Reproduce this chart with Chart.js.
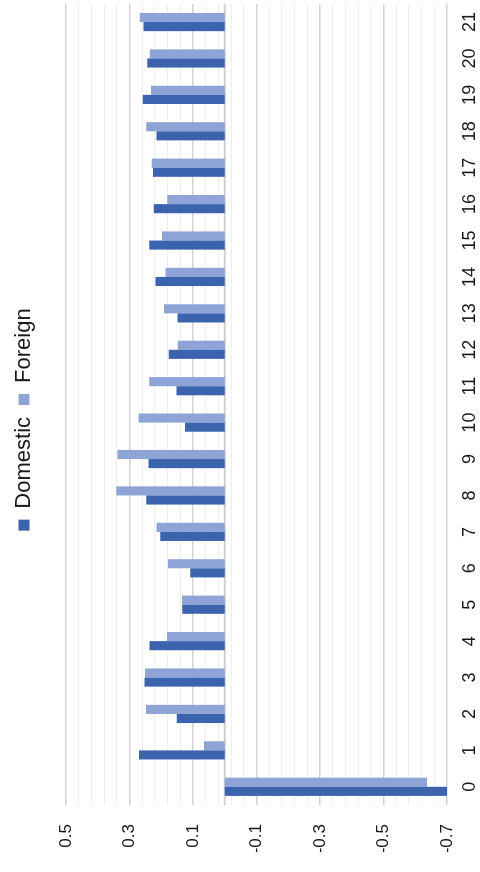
<!DOCTYPE html>
<html>
<head>
<meta charset="utf-8">
<script src="https://cdn.jsdelivr.net/npm/chart.js@4/dist/chart.umd.min.js"></script>
<style>
  html, body { margin: 0; padding: 0; background: #fff; overflow: hidden; width: 480px; height: 872px; }
  #wrap { position: absolute; left: 0; top: 0; width: 872px; height: 480px;
          transform-origin: 0 0; transform: translate(0px, 872px) rotate(-90deg); }
</style>
</head>
<body>
<div id="wrap"><canvas id="c" width="872" height="480"></canvas></div>
<script>
const categories = ['0','1','2','3','4','5','6','7','8','9','10','11','12','13','14','15','16','17','18','19','20','21'];
const domestic = [-0.705, 0.270, 0.151, 0.253, 0.237, 0.134, 0.109, 0.203, 0.247, 0.240, 0.125, 0.152, 0.176, 0.149, 0.218, 0.238, 0.224, 0.226, 0.215, 0.258, 0.244, 0.256];
const foreign  = [-0.637, 0.065, 0.248, 0.251, 0.182, 0.135, 0.179, 0.215, 0.342, 0.338, 0.272, 0.238, 0.148, 0.191, 0.187, 0.198, 0.181, 0.230, 0.247, 0.232, 0.236, 0.268];
const valueMin = -0.7, valueMax = 0.5, gridStep = 0.04, labelEvery = 5;

const FONT = 'Liberation Sans, Arial, sans-serif';
const LAYOUT_TOP = 1;
const PLOT_TOP = 66;
const LEGEND_SHIFT = 7;

const zeroLine = {
  id: 'zeroLine',
  beforeDatasetsDraw(chart) {
    const y = chart.scales.y.getPixelForValue(0);
    const a = chart.chartArea, ctx = chart.ctx;
    ctx.save();
    ctx.strokeStyle = '#d0d0d0';
    ctx.lineWidth = 2;
    ctx.beginPath();
    ctx.moveTo(a.left, y);
    ctx.lineTo(a.right, y);
    ctx.stroke();
    ctx.restore();
  }
};

const legendSpace = {
  id: 'legendSpace',
  beforeInit(chart) {
    const orig = chart.legend.fit;
    chart.legend.fit = function () { orig.call(this); this.height = PLOT_TOP - LAYOUT_TOP; };
  },
  afterLayout(chart) {
    chart.legend.left += LEGEND_SHIFT;
    chart.legend.right += LEGEND_SHIFT;
  }
};

new Chart(document.getElementById('c'), {
  type: 'bar',
  data: {
    labels: categories,
    datasets: [
      { label: 'Domestic', data: domestic, backgroundColor: '#3c64ae' },
      { label: 'Foreign', data: foreign, backgroundColor: '#8ea4d6' }
    ]
  },
  options: {
    responsive: false,
    animation: false,
    devicePixelRatio: 1,
    layout: { padding: { left: 20, right: 1, top: LAYOUT_TOP, bottom: 0 } },
    datasets: { bar: { categoryPercentage: 0.5, barPercentage: 1.0 } },
    plugins: {
      legend: {
        position: 'top',
        labels: { boxWidth: 11, boxHeight: 11, padding: 12, color: '#1a1a1a',
                  font: { family: FONT, size: 22 } }
      },
      tooltip: { enabled: false }
    },
    scales: {
      x: {
        afterFit(scale) { scale.height = 33; },
        grid: { display: false, drawTicks: false },
        border: { display: false },
        ticks: { color: '#1a1a1a', padding: 12, maxRotation: 0, autoSkip: false,
                 font: { family: FONT, size: 18 } }
      },
      y: {
        min: valueMin, max: valueMax,
        afterFit(scale) { scale.width = 47; },
        afterBuildTicks(scale) {
          const n = Math.round((valueMax - valueMin) / gridStep);
          const t = [];
          for (let k = 0; k <= n; k++) t.push({ value: Math.round((valueMin + k * gridStep) * 1000) / 1000 });
          scale.ticks = t;
        },
        border: { display: false },
        grid: {
          drawTicks: false,
          color: (ctx) => (ctx.index % labelEvery === 0 ? '#d3d3d3' : '#eeeeee'),
          lineWidth: (ctx) => (ctx.index % labelEvery === 0 ? 1.5 : 1)
        },
        ticks: {
          autoSkip: false, padding: 19, color: '#1a1a1a',
          font: { family: FONT, size: 17 },
          callback: (v, i) => (i % labelEvery === 0 ? Number(v).toFixed(1) : '')
        }
      }
    }
  },
  plugins: [zeroLine, legendSpace]
});
</script>
</body>
</html>
